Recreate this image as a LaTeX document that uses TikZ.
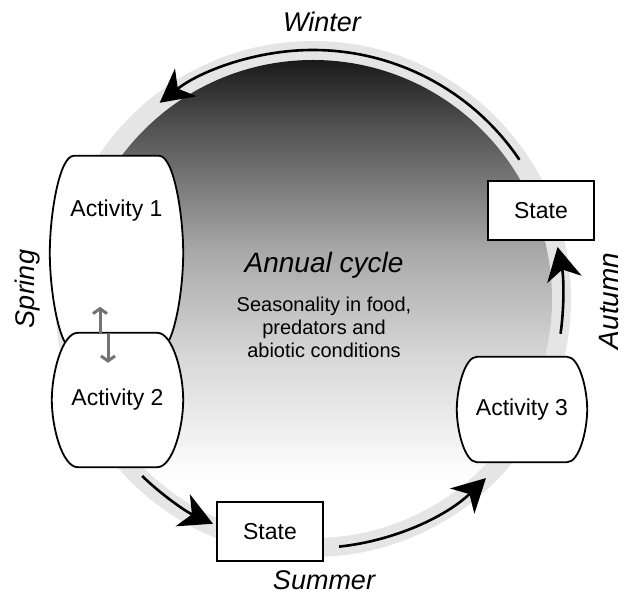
\documentclass[tikz,border=0pt]{standalone}
\usepackage{fontspec}
\setmainfont{Liberation Sans}
\usetikzlibrary{arrows.meta,calc}

\pgfdeclarelayer{background}
\pgfdeclarelayer{boxes}
\pgfsetlayers{background,boxes,main}

\pgfdeclareverticalshading{cycleshade}{100bp}{color(0bp)=(white); color(31bp)=(white); color(43.6bp)=(black!15); color(55bp)=(black!34); color(67.7bp)=(black!67); color(75bp)=(black!90); color(100bp)=(black!90)}

\tikzset{
  season/.style={font=\fontsize{27}{32}\selectfont\itshape, inner sep=0pt},
  activity/.style={inner sep=0pt, font=\fontsize{23}{28}\selectfont},
  statebox/.style={draw, line width=1.8pt, fill=white, minimum width=106pt, minimum height=59pt, inner sep=0pt, font=\fontsize{23}{28}\selectfont},
  boxline/.style={line width=1.8pt, fill=white},
  flow/.style={line width=2.6pt, -{Stealth[length=33pt,width=35pt,inset=10pt]}},
  trade/.style={draw=black!55, line width=3pt, -{Straight Barb[length=5pt,width=14pt]}}
}

% barrel outline behind an activity node
\newcommand\barrel[2][20]{%
  \begin{pgfonlayer}{boxes}
  \draw[boxline] let \p1=(#2.north east), \p2=(#2.south west), \n1={0.3*(\y1-\y2)} in
    (\x2+#1pt,\y1) -- (\x1-#1pt,\y1)
    .. controls (\x1-0.4*#1pt,\y1) and (\x1,\y1-\n1) .. (\x1,{0.5*(\y1+\y2)})
    .. controls (\x1,\y2+\n1) and (\x1-0.4*#1pt,\y2) .. (\x1-#1pt,\y2)
    -- (\x2+#1pt,\y2)
    .. controls (\x2+0.4*#1pt,\y2) and (\x2,\y2+\n1) .. (\x2,{0.5*(\y1+\y2)})
    .. controls (\x2,\y1-\n1) and (\x2+0.4*#1pt,\y1) .. cycle;
  \end{pgfonlayer}}

\begin{document}
\begin{tikzpicture}[x=1pt, y=1pt]
\useasboundingbox (0,0) rectangle (625,597);
% the year
\begin{pgfonlayer}{background}
\node[circle, fill=black!10, minimum size=516pt, inner sep=0pt] (cycle) at (313,298) {};
\shade[shading=cycleshade] (cycle.center) circle (239);
\end{pgfonlayer}

% activities and states
\node[activity, minimum width=133pt, minimum height=194pt, text height=17pt, text depth=89pt] (act1) at (116.5,344) {Activity 1};
\barrel[24]{act1}
\node[activity, minimum width=131pt, minimum height=134pt] (act2) at (117.5,197) {Activity 2};
\barrel[26]{act2}
\node[activity, minimum width=130pt, minimum height=105pt] (act3) at (522,187.5) {Activity 3};
\barrel[20]{act3}
\node[statebox] (state1) at (270,65.5) {State};
\node[statebox] (state2) at (541,386.5) {State};

% flow round the year
\draw[flow] ([shift={(34:249)}]cycle.center) arc[start angle=34, end angle=128, radius=249];
\draw[flow] ([shift={(-134:246)}]cycle.center) arc[start angle=-134, end angle=-114, radius=246];
\draw[flow] ([shift={(-84:249)}]cycle.center) arc[start angle=-84, end angle=-46, radius=249];
\draw[flow] ([shift={(-8:250)}]cycle.center) arc[start angle=-8, end angle=12, radius=250];

% switching between activities
\draw[trade] ([xshift=-17.5pt]act2.north) -- ++(0,26);
\draw[trade] ([xshift=-9.5pt]act2.north) -- ++(0,-30);

% labels
\node[season, anchor=base] (winter) at (322,565) {Winter};
\node[season, anchor=base] (summer) at (324,7) {Summer};
\node[season, rotate=90, anchor=north] (spring) at (15,308) {Spring};
\node[season, font=\fontsize{28}{33}\selectfont\itshape, rotate=90, anchor=north] (autumn) at (599,296) {Autumn};
\node[font=\fontsize{28}{33}\selectfont\itshape, inner sep=0pt, anchor=base] (title) at (324,324) {Annual cycle};
\node[font=\fontsize{20}{23}\selectfont, align=center, inner sep=0pt, anchor=north] (drivers) at (324,300) {Seasonality in food,\\predators and\\abiotic conditions};
\end{tikzpicture}
\end{document}
